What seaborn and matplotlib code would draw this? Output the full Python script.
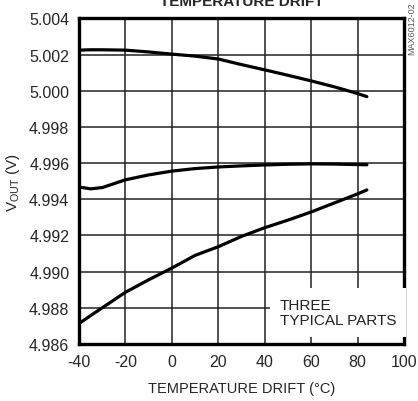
import numpy as np
import pandas as pd
import seaborn as sns
import matplotlib.pyplot as plt

# temperature points (deg C) and output voltage of three typical parts
temp = [-40, -35, -30, -20, -10, 0, 10, 20, 30, 40, 50, 60, 70, 80, 84]
part_a = [5.00225, 5.00227, 5.00227, 5.00225, 5.00215, 5.00203, 5.00192, 5.00176,
          5.00145, 5.00116, 5.00086, 5.00055, 5.00022, 4.99985, 4.99968]
part_b = [4.99468, 4.99458, 4.99465, 4.99508, 4.99535, 4.99556, 4.99570, 4.99579,
          4.99585, 4.99590, 4.99594, 4.99596, 4.99595, 4.99592, 4.99591]
part_c = [4.98713, 4.98757, 4.98800, 4.98886, 4.98955, 4.99020, 4.99090, 4.99138,
          4.99195, 4.99243, 4.99285, 4.99330, 4.99380, 4.99430, 4.99452]

xticks = [-40, -20, 0, 20, 40, 60, 80, 100]
yticks = [4.986, 4.988, 4.990, 4.992, 4.994, 4.996, 4.998, 5.000, 5.002, 5.004]

df = pd.DataFrame({
    'temp': temp * 3,
    'vout': part_a + part_b + part_c,
    'part': ['A'] * len(temp) + ['B'] * len(temp) + ['C'] * len(temp),
})

sns.set_style('white')
plt.rcParams['font.family'] = ['Liberation Sans', 'DejaVu Sans']

fig = plt.figure(figsize=(4.18, 4.02), dpi=100)
ax = fig.add_axes([0.189, 0.1418, 0.7775, 0.8097])

sns.lineplot(data=df, x='temp', y='vout', units='part', estimator=None,
             color='black', linewidth=2.3, ax=ax, legend=False)

ax.set_xlim(-40, 100)
ax.set_ylim(4.986, 5.004)
ax.set_xticks(xticks)
ax.set_yticks(yticks)
ax.set_xticklabels([str(t) for t in xticks], fontsize=11.5)
ax.set_yticklabels(['%.3f' % t for t in yticks], fontsize=11.5)
ax.tick_params(length=0, pad=7)
ax.grid(True, color='#222222', linewidth=1.1)
ax.set_axisbelow(True)
for s in ax.spines.values():
    s.set_linewidth(2.4)
    s.set_color('black')

ax.set_xlabel('TEMPERATURE DRIFT (°C)', fontsize=10.5, labelpad=9)
ax.set_ylabel(r'V$_{\mathregular{OUT}}$ (V)', fontsize=11, labelpad=5)

ax.text(46.5, 4.98775, 'THREE\nTYPICAL PARTS', fontsize=11, ha='left', va='center',
        linespacing=1.1, color='#222222',
        bbox=dict(facecolor='white', edgecolor='none', pad=7))

fig.text(0.579, 0.995, 'TEMPERATURE DRIFT', fontsize=11, fontweight='bold',
         ha='center', va='center')
fig.text(0.985, 0.928, 'MAX6012-02', fontsize=6.5, rotation=90, color='#555555',
         ha='center', va='center')

fig.savefig('out.png', dpi=100)
